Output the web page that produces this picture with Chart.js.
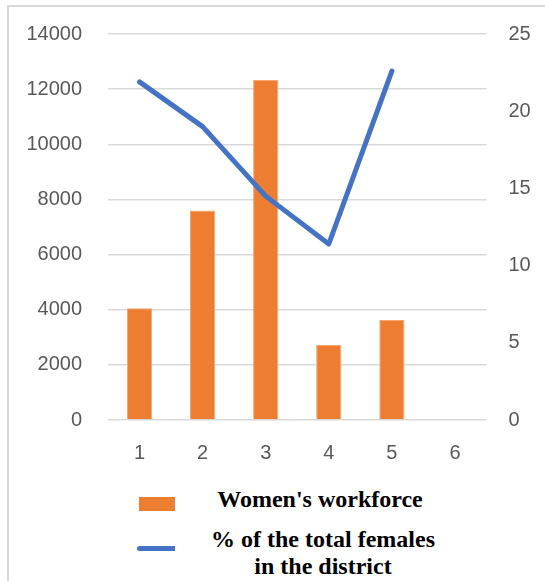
<!DOCTYPE html>
<html>
<head>
<meta charset="utf-8">
<script src="https://cdn.jsdelivr.net/npm/chart.js@4/dist/chart.umd.min.js"></script>
<style>
  html, body { margin: 0; padding: 0; background: #fff; }
  body { width: 545px; height: 581px; position: relative; overflow: hidden; }
  #frame { position: absolute; left: 7px; top: 5px; width: 600px; height: 640px;
           border: 2px solid #d9d9d9; box-sizing: border-box; }
  #wrap { position: absolute; left: 0; top: 0; width: 545px; height: 470px; }
  .leg { position: absolute; font-family: "Liberation Serif", "Times New Roman", serif;
         font-weight: bold; font-size: 24px; color: #000; text-align: center; line-height: 27px; }
  .sw { position: absolute; }
</style>
</head>
<body>
<div id="frame"></div>
<div id="wrap"><canvas id="c" width="545" height="470"></canvas></div>
<div id="legend"></div>
<script>
// Districts and their figures
const categories = ['1', '2', '3', '4', '5', '6'];
const workforce = [4050, 7600, 12330, 2720, 3630, null];
const femaleShare = [21.9, 19.0, 14.5, 11.4, 22.6, null];
const seriesNames = ["Women's workforce", "% of the total females\nin the district"];
const leftTicks = [0, 2000, 4000, 6000, 8000, 10000, 12000, 14000];
const rightTicks = [0, 5, 10, 15, 20, 25];

const ORANGE = '#ED7D31';
const BLUE = '#4472C4';
const tickFont = { family: '"Liberation Sans", Arial, sans-serif', size: 20 };
const plain = v => String(v);

// Keep the plot rectangle at a fixed place on the canvas
const plotBox = {
  id: 'plotBox',
  afterLayout(chart) {
    const a = chart.chartArea;
    a.top = 34; a.bottom = 420; a.left = 108; a.right = 486.5;
    a.width = a.right - a.left; a.height = a.bottom - a.top;
    const s = chart.scales;
    Object.values(s).forEach(sc => {
      if (sc.isHorizontal()) { sc.left = a.left; sc.right = a.right; sc.width = a.width; sc.top = a.bottom; }
      else { sc.top = a.top; sc.bottom = a.bottom; sc.height = a.height; }
      sc.configure && sc.configure();
    });
  }
};

new Chart(document.getElementById('c'), {
  type: 'bar',
  plugins: [plotBox],
  data: {
    labels: categories,
    datasets: [
      {
        type: 'line',
        label: seriesNames[1],
        data: femaleShare,
        yAxisID: 'y1',
        borderColor: BLUE,
        backgroundColor: BLUE,
        borderWidth: 5,
        pointRadius: 0,
        borderCapStyle: 'round',
        borderJoinStyle: 'round',
        tension: 0,
        order: 0
      },
      {
        type: 'bar',
        label: seriesNames[0],
        data: workforce,
        yAxisID: 'y',
        backgroundColor: ORANGE,
        borderColor: '#F4A571',
        borderWidth: 1,
        categoryPercentage: 1,
        barPercentage: 0.4,
        order: 1
      }
    ]
  },
  options: {
    responsive: false,
    animation: false,
    devicePixelRatio: 1,
    layout: { padding: { top: 31, left: 0, right: 0, bottom: 0 } },
    plugins: { legend: { display: false }, tooltip: { enabled: false } },
    scales: {
      x: {
        offset: true,
        grid: { display: false, drawTicks: false },
        border: { display: false },
        ticks: { color: '#595959', font: tickFont, padding: 21, maxRotation: 0 },
        afterFit: s => { s.height = 50; }
      },
      y: {
        position: 'left',
        min: 0, max: 14000,
        afterBuildTicks: s => { s.ticks = leftTicks.map(v => ({ value: v })); },
        grid: { color: '#d9d9d9', lineWidth: 1.5, drawTicks: false },
        border: { display: false },
        ticks: { color: '#595959', font: tickFont, padding: 26, callback: plain },
        afterFit: s => { s.width = 108; }
      },
      y1: {
        position: 'right',
        min: 0, max: 25,
        afterBuildTicks: s => { s.ticks = rightTicks.map(v => ({ value: v })); },
        grid: { display: false, drawTicks: false },
        border: { display: false },
        ticks: { color: '#595959', font: tickFont, padding: 22, callback: plain },
        afterFit: s => { s.width = 58.5; }
      }
    }
  }
});

// Legend below the plot, built from the series names
const legend = document.getElementById('legend');
function addItem(name, swatchCss, textLeft, textTop, textWidth) {
  const sw = document.createElement('div');
  sw.className = 'sw';
  sw.style.cssText = swatchCss;
  legend.appendChild(sw);
  const t = document.createElement('div');
  t.className = 'leg';
  t.style.left = textLeft + 'px';
  t.style.top = textTop + 'px';
  t.style.width = textWidth + 'px';
  t.innerHTML = name.split('\n').join('<br>');
  legend.appendChild(t);
}
addItem(seriesNames[0], 'left:139px;top:497px;width:36px;height:14px;background:' + ORANGE + ';',
        200, 486, 240);
addItem(seriesNames[1], 'left:137px;top:546px;width:38px;height:5px;border-radius:2.5px 0 0 2.5px;background:' + BLUE + ';',
        193, 526, 260);
</script>
</body>
</html>
